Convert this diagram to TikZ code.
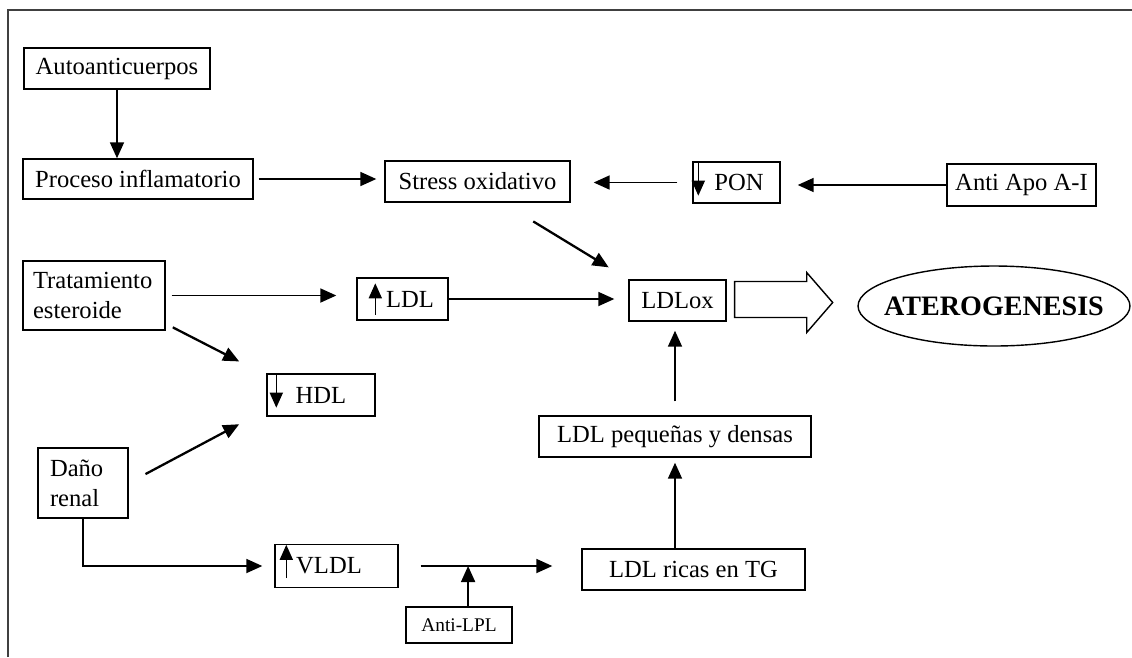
\documentclass[tikz,border=0pt]{standalone}
\usepackage{fontspec}
\setmainfont{Liberation Serif}
\usetikzlibrary{arrows.meta}

\begin{document}
\begin{tikzpicture}[x=0.02cm,y=-0.02cm,
  font=\fontsize{14}{17}\selectfont,
  caja/.style={draw,line width=0.8pt,inner sep=0pt},
  flecha/.style={-{Triangle[length=0.32cm,width=0.28cm]},line width=1pt},
  flechita/.style={-{Triangle[length=0.3cm,width=0.26cm]},line width=0.9pt}]
\useasboundingbox (0,0) rectangle (1132,657);
\draw[line width=1.1pt,black!75] (8,657) -- (8,10) -- (1132,10);
% cajas
\node[caja,minimum width=3.72cm,minimum height=0.82cm] (auto) at (117,68.5) {Autoanticuerpos};
\node[caja,minimum width=4.6cm,minimum height=0.8cm] (proc) at (138,179) {Proceso inflamatorio};
\node[caja,minimum width=3.7cm,minimum height=0.82cm] (stress) at (477.5,181.5) {Stress oxidativo};
\node[caja,minimum width=1.74cm,minimum height=0.82cm] (pon) at (736.5,182.5) {\hspace*{0.1cm}PON};
\node[caja,minimum width=2.98cm,minimum height=0.84cm] (apo) at (1021.5,185) {Anti Apo A-I};
\node[caja,inner xsep=0.2cm,text width=2.44cm,align=left,minimum height=1.38cm] (trat) at (94,295.5) {Tratamiento\\esteroide};
\node[caja,minimum width=1.82cm,minimum height=0.84cm] (ldl) at (402.5,299) {\hspace*{0.3cm}LDL};
\node[caja,minimum width=1.94cm,minimum height=0.82cm] (ldlox) at (677.5,300.5) {LDLox};
\node[caja,minimum width=2.16cm,minimum height=0.84cm] (hdl) at (321,395) {HDL};
\node[caja,inner xsep=0.24cm,text width=1.32cm,align=left,minimum height=1.4cm] (dano) at (83,483) {Daño\\renal};
\node[caja,minimum width=5.44cm,minimum height=0.82cm] (peq) at (675,436.5) {LDL pequeñas y densas};
\node[caja,minimum width=2.46cm,minimum height=0.86cm] (vldl) at (336.5,566) {VLDL\hspace*{0.3cm}};
\node[caja,minimum width=4.46cm,minimum height=0.82cm] (ricas) at (693.5,569.5) {LDL ricas en TG};
\node[caja,minimum width=2.12cm,minimum height=0.72cm,font=\fontsize{11}{13}\selectfont] (lpl) at (459,625) {Anti-LPL};
\node[font=\fontsize{16}{19}\selectfont\bfseries] (ater) at (994,306) {ATEROGENESIS};
\draw[line width=0.8pt] (ater.center) ellipse [x radius=2.72cm, y radius=0.8cm];
% flechas dentro de las cajas
\draw[flechita] ([xshift=0.12cm]pon.north west) -- ([xshift=0.12cm,yshift=0.16cm]pon.south west);
\draw[flechita] ([xshift=0.38cm,yshift=0.12cm]ldl.south west) -- ([xshift=0.38cm,yshift=-0.12cm]ldl.north west);
\draw[flechita] ([xshift=0.2cm,yshift=-0.04cm]hdl.north west) -- ([xshift=0.2cm,yshift=0.18cm]hdl.south west);
\draw[flechita] ([xshift=0.24cm,yshift=0.2cm]vldl.south west) -- ([xshift=0.24cm,yshift=-0.02cm]vldl.north west);
% conexiones
\draw[flecha] (auto.south) -- (auto.south |- proc.north);
\draw[flecha,shorten <=0.1cm,shorten >=0.16cm] (proc.east) -- (proc.east -| stress.west);
\draw[flecha,shorten <=0.3cm,shorten >=0.46cm] (pon.west) -- (pon.west -| stress.east);
\draw[flecha,shorten >=0.34cm] (apo.west) -- (apo.west -| pon.east);
\draw[flecha,line width=1.3pt,shorten <=0.72cm,shorten >=0.46cm] ([xshift=0.5cm]stress.south) -- (ldlox.north west);
\draw[flecha,shorten <=0.12cm,shorten >=0.4cm] (trat.east) -- (trat.east -| ldl.west);
\draw[flecha,shorten >=0.28cm] (ldl.east) -- (ldl.east -| ldlox.west);
\draw[flecha,line width=1.3pt,shorten <=0.16cm,shorten >=0.52cm] ([yshift=0.14cm]trat.south east) -- ([xshift=-0.08cm]hdl.north west);
\draw[flecha,line width=1.3pt,shorten <=0.38cm,shorten >=0.32cm] (dano.east) -- ([xshift=-0.26cm]hdl.south west);
\draw[flecha,shorten >=0.24cm] (dano.south) |- (vldl.west);
\draw[flecha,shorten <=0.44cm,shorten >=0.58cm] (vldl.east) -- coordinate[pos=0.38] (inhib) (vldl.east -| ricas.west);
\draw[flecha] (lpl.north -| inhib) -- (inhib);
\draw[flecha,shorten >=0.1cm] (peq.south |- ricas.north) -- (peq.south);
\draw[flecha,shorten <=0.28cm,shorten >=0.18cm] (peq.north) -- (peq.north |- ldlox.south);
% flecha grande
\draw[line width=0.8pt] ([xshift=0.16cm]ldlox.east) ++(0,-19) -- ++(72,0) -- ++(0,-9) -- ++(26,30) -- ++(-26,30) -- ++(0,-15) -- ++(-72,0) -- cycle;
\end{tikzpicture}
\end{document}
